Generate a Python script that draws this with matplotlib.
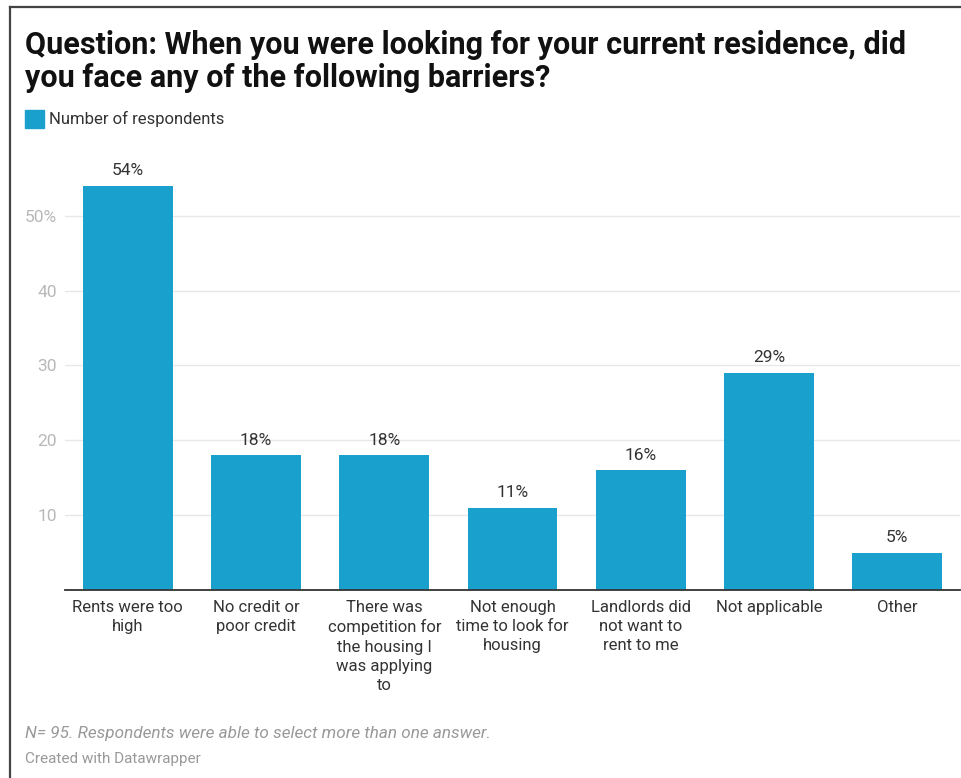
import matplotlib.pyplot as plt
from matplotlib.patches import Rectangle
from matplotlib.lines import Line2D

plt.rcParams["font.family"] = ["Roboto", "DejaVu Sans"]

categories = [
    "Rents were too\nhigh",
    "No credit or\npoor credit",
    "There was\ncompetition for\nthe housing I\nwas applying\nto",
    "Not enough\ntime to look for\nhousing",
    "Landlords did\nnot want to\nrent to me",
    "Not applicable",
    "Other",
]
values = [54, 18, 18, 11, 16, 29, 5]
yticks = [10, 20, 30, 40, 50]
ytick_labels = ["10", "20", "30", "40", "50%"]

title = ("Question: When you were looking for your current residence, did\n"
         "you face any of the following barriers?")
legend_label = "Number of respondents"
note = "N= 95. Respondents were able to select more than one answer."
credit = "Created with Datawrapper"

bar_color = "#1aa0cc"
text_dark = "#333333"
text_gray = "#b8b8b8"

fig = plt.figure(figsize=(9.62, 7.78), dpi=100)
ax = fig.add_axes([0.0676, 0.2416, 0.9304, 0.558])

x = list(range(len(values)))
ax.bar(x, values, width=0.70, color=bar_color, zorder=2)
for xi, v in zip(x, values):
    ax.text(xi, v + 1.0, f"{v}%", ha="center", va="bottom",
            fontsize=12.5, color=text_dark)

ax.set_xlim(-0.49, 6.49)
ax.set_ylim(0, 58)
ax.set_yticks(yticks)
ax.set_yticklabels(ytick_labels, color=text_gray, fontsize=12.5)
ax.grid(axis="y", color="#e8e8e8", linewidth=1, zorder=0)
ax.tick_params(axis="y", length=0, pad=6)

ax.set_xticks(x)
ax.set_xticklabels(categories, fontsize=12, color=text_dark, linespacing=1.36,
                   va="top")
ax.tick_params(axis="x", length=0, pad=7)

for side in ["top", "right", "left"]:
    ax.spines[side].set_visible(False)
ax.spines["bottom"].set_color("#333333")
ax.spines["bottom"].set_linewidth(1.3)
ax.spines["bottom"].set_zorder(3)

fig.text(0.026, 0.962, title, ha="left", va="top", fontsize=22,
         fontweight="bold", color="#111111", linespacing=1.15)

# legend swatch and label
fig.patches.append(Rectangle((0.026, 0.835), 0.0198, 0.024,
                             transform=fig.transFigure, color=bar_color))
fig.text(0.051, 0.847, legend_label, ha="left", va="center",
         fontsize=12, color=text_dark)

fig.text(0.026, 0.057, note, ha="left", va="center", fontsize=12.3,
         style="italic", color="#999999")
fig.text(0.026, 0.024, credit, ha="left", va="center", fontsize=11,
         color="#999999")

# frame along the top and left edges
fig.lines.append(Line2D([0.0105, 0.0105], [0.0, 0.991], transform=fig.transFigure,
                        color="#444444", linewidth=1.6))
fig.lines.append(Line2D([0.0105, 1.0], [0.991, 0.991], transform=fig.transFigure,
                        color="#444444", linewidth=1.6))

fig.savefig("out.png", dpi=100)
